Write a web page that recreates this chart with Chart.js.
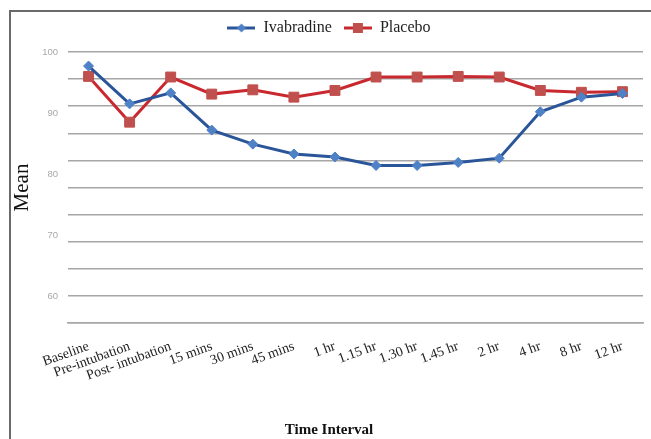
<!DOCTYPE html>
<html>
<head>
<meta charset="utf-8">
<script src="https://cdn.jsdelivr.net/npm/chart.js@4"></script>
<style>
  html, body { margin: 0; padding: 0; background: #fff; overflow: hidden; }
  #wrap { position: relative; width: 651px; height: 439px; }
  #frame {
    position: absolute; left: 9px; top: 10px; width: 700px; height: 500px;
    border-left: 2px solid #6a6a6a; border-top: 2px solid #6a6a6a;
    pointer-events: none;
  }
</style>
</head>
<body>
<div id="wrap">
  <canvas id="chart" width="651" height="439"></canvas>
  <div id="frame"></div>
</div>
<script>
// ===== DATA =====
const categories = ["Baseline", "Pre-intubation", "Post- intubation", "15 mins", "30 mins", "45 mins",
  "1 hr", "1.15 hr", "1.30 hr", "1.45 hr", "2 hr", "4 hr", "8 hr", "12 hr"];
const ivabradine = [97.7, 91.5, 93.3, 87.2, 84.9, 83.3, 82.8, 81.4, 81.4, 81.9, 82.6, 90.2, 92.6, 93.2];
const placebo = [96.0, 88.5, 95.9, 93.1, 93.8, 92.6, 93.7, 95.9, 95.9, 96.0, 95.9, 93.7, 93.4, 93.5];
const yTickLabels = [60, 70, 80, 90, 100];

// legend symbol: short line with marker on it
function legendSymbol(lineColor, markerColor, shape) {
  const c = document.createElement("canvas");
  c.width = 28; c.height = 12;
  const g = c.getContext("2d");
  g.strokeStyle = lineColor;
  g.lineWidth = 3;
  g.beginPath(); g.moveTo(0, 6); g.lineTo(28, 6); g.stroke();
  g.fillStyle = markerColor;
  if (shape === "diamond") {
    g.beginPath(); g.moveTo(14, 1.5); g.lineTo(18.5, 6); g.lineTo(14, 10.5); g.lineTo(9.5, 6); g.closePath(); g.fill();
  } else {
    g.fillRect(9, 1, 10, 10);
  }
  return c;
}
const symIva = legendSymbol("#2a5599", "#4f81c7", "diamond");
const symPla = legendSymbol("#c8282e", "#c0504d", "square");

// a bit more room under the legend
const legendGap = {
  id: "legendGap",
  beforeInit(chart) {
    const fit = chart.legend.fit;
    chart.legend.fit = function () {
      fit.bind(chart.legend)();
      this.height += 6;
    };
  }
};

new Chart(document.getElementById("chart"), {
  type: "line",
  data: {
    labels: categories,
    datasets: [{
      label: "Ivabradine",
      data: ivabradine,
      borderColor: "#2a5599",
      borderWidth: 3,
      tension: 0,
      pointStyle: "rectRot",
      pointRadius: 5,
      pointBackgroundColor: "#4f81c7",
      pointBorderColor: "#4f81c7",
      pointBorderWidth: 1,
      yAxisID: "y"
    }, {
      label: "Placebo",
      data: placebo,
      borderColor: "#c8282e",
      borderWidth: 3,
      tension: 0,
      pointStyle: "rect",
      pointRadius: 7,
      pointBackgroundColor: "#c0504d",
      pointBorderColor: "#c0504d",
      pointBorderWidth: 1,
      yAxisID: "y"
    }]
  },
  options: {
    responsive: false,
    animation: false,
    layout: { padding: { left: 10, right: 3, top: 8, bottom: 0 } },
    plugins: {
      legend: {
        position: "top",
        labels: {
          usePointStyle: true,
          pointStyleWidth: 28,
          padding: 12,
          color: "#222",
          font: { family: "Liberation Serif", size: 16 },
          generateLabels: chart => {
            const items = Chart.defaults.plugins.legend.labels.generateLabels(chart);
            items[0].pointStyle = symIva;
            items[1].pointStyle = symPla;
            return items;
          }
        }
      },
      title: {
        display: true,
        position: "bottom",
        text: "Time Interval",
        color: "#111",
        font: { family: "Liberation Serif", size: 15, weight: "bold" },
        padding: { top: 0, bottom: 0 }
      },
      tooltip: { enabled: false }
    },
    scales: {
      x: {
        offset: true,
        grid: { display: false, drawTicks: false },
        border: { display: true, color: "#a6a6a6", width: 1.5 },
        ticks: {
          autoSkip: false,
          minRotation: 20,
          maxRotation: 20,
          padding: 15,
          color: "#222",
          font: { family: "Liberation Serif", size: 14 }
        },
        afterFit: s => { s.height = 98; }
      },
      y: {
        position: "left",
        weight: 1,
        min: 55.59,
        max: 100,
        grid: { display: false, drawTicks: false },
        border: { display: false },
        afterBuildTicks: axis => { axis.ticks = yTickLabels.map(v => ({ value: v })); },
        ticks: {
          padding: 10,
          color: "#a8a8a8",
          font: { family: "Liberation Sans", size: 9.5 }
        },
        title: {
          display: true,
          text: "Mean",
          color: "#111",
          font: { family: "Liberation Serif", size: 21 },
          padding: 0
        },
        afterFit: s => { s.width = 58; }
      },
      yGrid: {
        position: "left",
        weight: 0,
        min: 50,
        max: 100,
        grid: { color: "#a6a6a6", lineWidth: 1.5, drawTicks: false },
        border: { display: false },
        ticks: { display: false, stepSize: 5 },
        afterFit: s => { s.width = 0; }
      }
    }
  },
  plugins: [legendGap]
});
</script>
</body>
</html>
